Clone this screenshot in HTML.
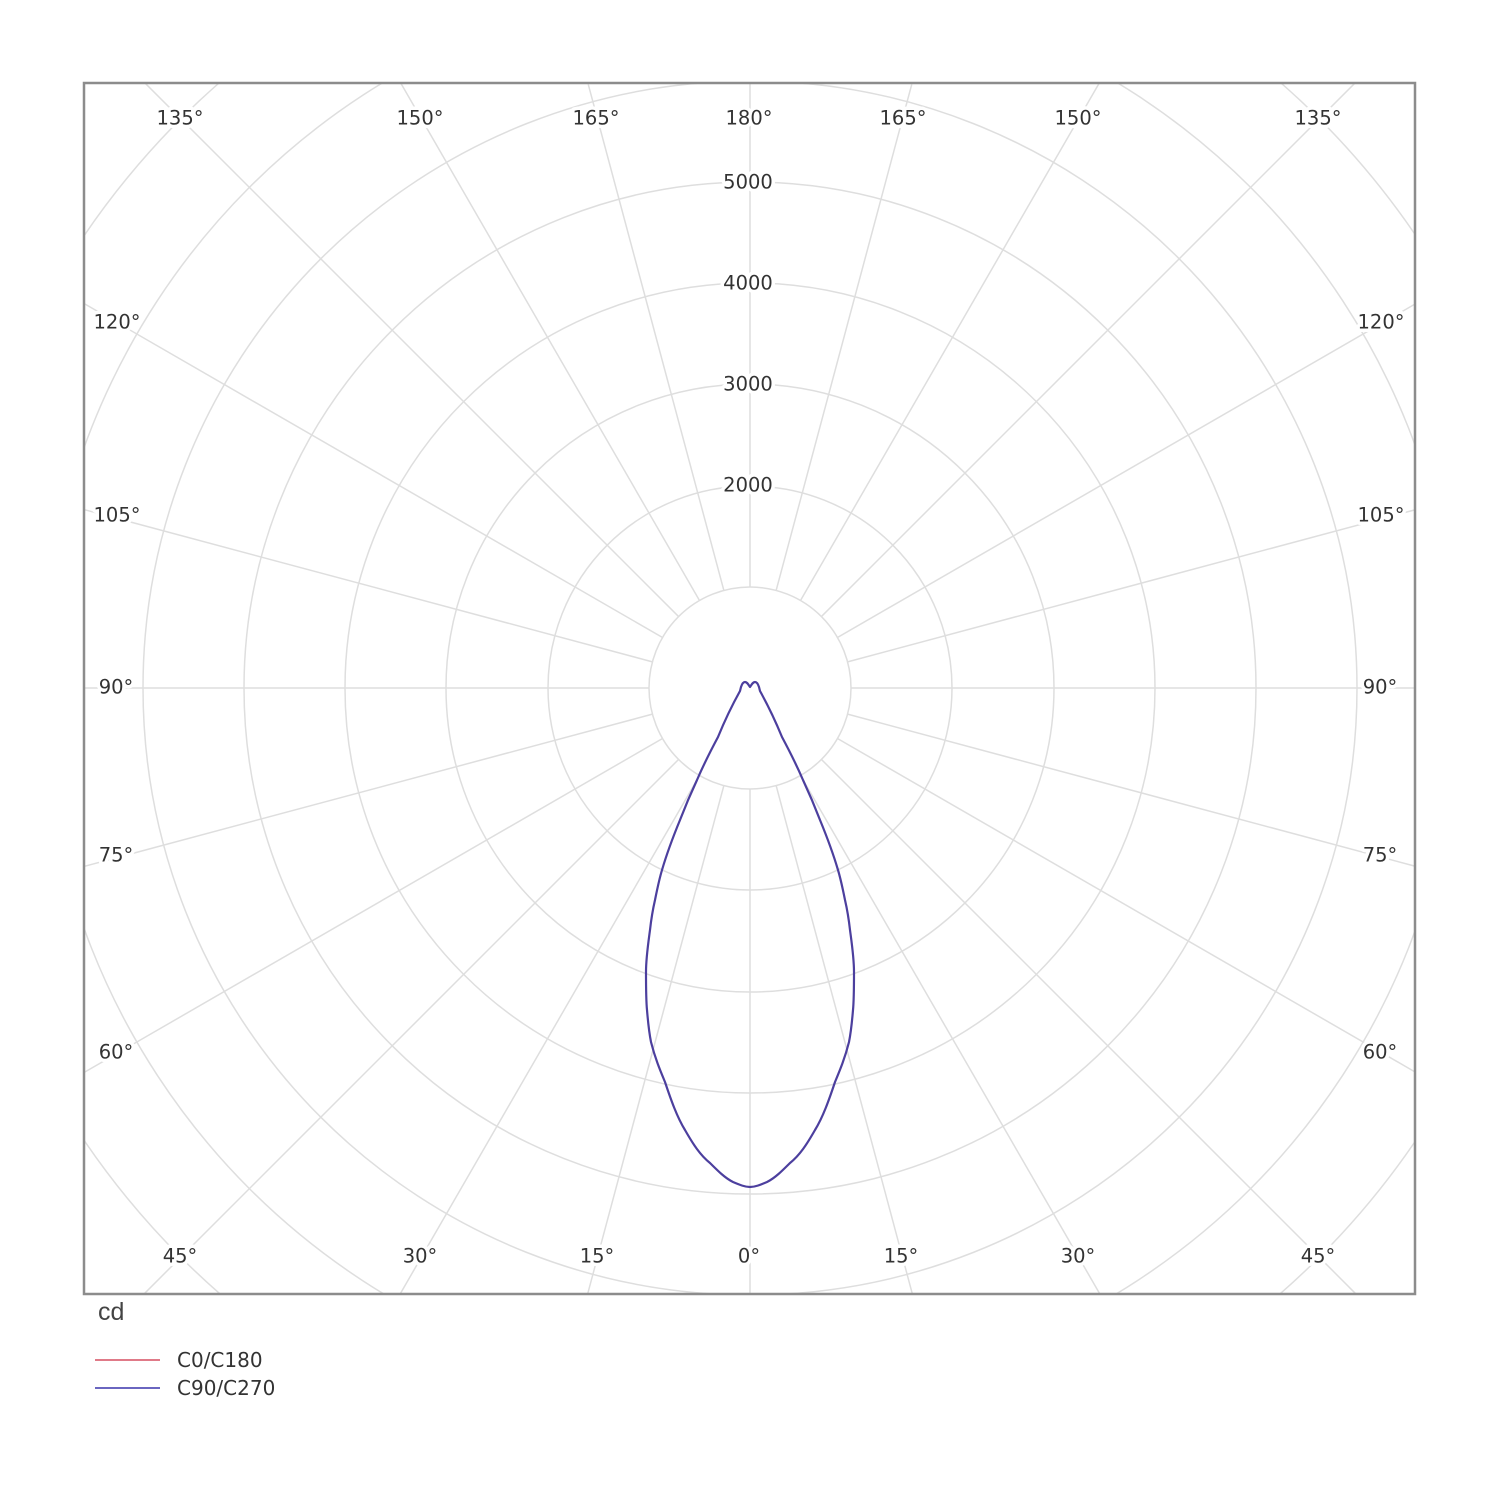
<!DOCTYPE html>
<html>
<head>
<meta charset="utf-8">
<style>
  html,body{margin:0;padding:0;background:#fff;width:1500px;height:1500px;overflow:hidden;}
  svg{display:block;}
  text{font-family:"DejaVu Sans","Liberation Sans",sans-serif;fill:#333;}
  .lbl{font-size:19.5px;text-anchor:middle;dominant-baseline:central;paint-order:stroke;stroke:#fff;stroke-width:7px;stroke-linejoin:round;}
</style>
</head>
<body>
<svg width="1500" height="1500" viewBox="0 0 1500 1500" xmlns="http://www.w3.org/2000/svg">
  <defs>
    <clipPath id="frame"><rect x="84" y="83" width="1331" height="1211"/></clipPath>
  </defs>
  <rect width="1500" height="1500" fill="#fff"/>
  <g clip-path="url(#frame)" fill="none" stroke="#dedede" stroke-width="1.5">
    <circle cx="750" cy="688" r="101"/>
    <circle cx="750" cy="688" r="202"/>
    <circle cx="750" cy="688" r="304"/>
    <circle cx="750" cy="688" r="405"/>
    <circle cx="750" cy="688" r="506"/>
    <circle cx="750" cy="688" r="607"/>
    <circle cx="750" cy="688" r="708"/>
    <circle cx="750" cy="688" r="805"/>
    <g>
      <line x1="750" y1="587" x2="750" y2="84"/>
      <line x1="750" y1="789" x2="750" y2="1293"/>
      <line x1="649" y1="688" x2="85" y2="688"/>
      <line x1="851" y1="688" x2="1414" y2="688"/>
    </g>
    <g transform="translate(750,688)">
      <line x1="0" y1="101" x2="0" y2="627" transform="rotate(15)"/>
      <line x1="0" y1="101" x2="0" y2="699" transform="rotate(30)"/>
      <line x1="0" y1="101" x2="0" y2="856" transform="rotate(45)"/>
      <line x1="0" y1="101" x2="0" y2="768" transform="rotate(60)"/>
      <line x1="0" y1="101" x2="0" y2="689" transform="rotate(75)"/>
      <line x1="0" y1="101" x2="0" y2="689" transform="rotate(105)"/>
      <line x1="0" y1="101" x2="0" y2="768" transform="rotate(120)"/>
      <line x1="0" y1="101" x2="0" y2="855" transform="rotate(135)"/>
      <line x1="0" y1="101" x2="0" y2="698" transform="rotate(150)"/>
      <line x1="0" y1="101" x2="0" y2="625" transform="rotate(165)"/>
      <line x1="0" y1="101" x2="0" y2="625" transform="rotate(195)"/>
      <line x1="0" y1="101" x2="0" y2="698" transform="rotate(210)"/>
      <line x1="0" y1="101" x2="0" y2="855" transform="rotate(225)"/>
      <line x1="0" y1="101" x2="0" y2="768" transform="rotate(240)"/>
      <line x1="0" y1="101" x2="0" y2="689" transform="rotate(255)"/>
      <line x1="0" y1="101" x2="0" y2="689" transform="rotate(285)"/>
      <line x1="0" y1="101" x2="0" y2="768" transform="rotate(300)"/>
      <line x1="0" y1="101" x2="0" y2="856" transform="rotate(315)"/>
      <line x1="0" y1="101" x2="0" y2="699" transform="rotate(330)"/>
      <line x1="0" y1="101" x2="0" y2="627" transform="rotate(345)"/>
    </g>
  </g>

  <!-- curves -->
  <path fill="none" stroke="#4c3f9e" stroke-width="2.2" stroke-linejoin="round"
    d="M750,687 C748,684 747,682 745,682 C743,682 742,684 741,687 L740,691
       C735,700 727,715 718,737 C710,752 703,766 697,780 C690,795 685,807 680,820
       C673,837 667,853 662,870 C659,880 657,890 655,900 C652,913 651,921 650,930
       C648,945 646,958 646,972 C646,988 646,1000 647,1010 C648,1022 649,1032 651,1042
       C655,1058 660,1070 665,1082 C671,1100 677,1117 685,1130 C693,1144 700,1155 710,1163
       C718,1171 725,1178 733,1182 C740,1185 745,1187 750,1187
       C755,1187 760,1185 767,1182 C775,1178 782,1171 790,1163
       C800,1155 807,1144 815,1130 C823,1117 829,1100 835,1082
       C840,1070 845,1058 849,1042 C851,1032 852,1022 853,1010
       C854,1000 854,988 854,972 C854,958 852,945 850,930
       C849,921 848,913 845,900 C843,890 841,880 838,870
       C833,853 827,837 820,820 C815,807 810,795 803,780
       C797,766 790,752 782,737 C773,715 765,700 760,691 L759,687
       C758,684 757,682 755,682 C753,682 752,684 750,687 Z"/>

  <!-- frame -->
  <rect x="84" y="83" width="1331" height="1211" fill="none" stroke="#8c8c8c" stroke-width="2.5"/>

  <!-- radial labels -->
  <text class="lbl" x="748" y="182">5000</text>
  <text class="lbl" x="748" y="283">4000</text>
  <text class="lbl" x="748" y="384">3000</text>
  <text class="lbl" x="748" y="485">2000</text>

  <!-- angle labels top -->
  <text class="lbl" x="180" y="118">135°</text>
  <text class="lbl" x="420" y="118">150°</text>
  <text class="lbl" x="596" y="118">165°</text>
  <text class="lbl" x="749" y="118">180°</text>
  <text class="lbl" x="903" y="118">165°</text>
  <text class="lbl" x="1078" y="118">150°</text>
  <text class="lbl" x="1318" y="118">135°</text>
  <!-- left -->
  <text class="lbl" x="117" y="322">120°</text>
  <text class="lbl" x="117" y="515">105°</text>
  <text class="lbl" x="116" y="687">90°</text>
  <text class="lbl" x="116" y="855">75°</text>
  <text class="lbl" x="116" y="1052">60°</text>
  <!-- right -->
  <text class="lbl" x="1381" y="322">120°</text>
  <text class="lbl" x="1381" y="515">105°</text>
  <text class="lbl" x="1380" y="687">90°</text>
  <text class="lbl" x="1380" y="855">75°</text>
  <text class="lbl" x="1380" y="1052">60°</text>
  <!-- bottom -->
  <text class="lbl" x="180" y="1256">45°</text>
  <text class="lbl" x="420" y="1256">30°</text>
  <text class="lbl" x="597" y="1256">15°</text>
  <text class="lbl" x="749" y="1256">0°</text>
  <text class="lbl" x="901" y="1256">15°</text>
  <text class="lbl" x="1078" y="1256">30°</text>
  <text class="lbl" x="1318" y="1256">45°</text>

  <!-- unit + legend -->
  <text x="98" y="1320" style="font-size:25px;fill:#444;font-family:'Liberation Sans','DejaVu Sans',sans-serif;">cd</text>
  <line x1="95" y1="1360" x2="160" y2="1360" stroke="#e07a88" stroke-width="2"/>
  <text x="177" y="1367" style="font-size:20px;">C0/C180</text>
  <line x1="95" y1="1388" x2="160" y2="1388" stroke="#6a66c0" stroke-width="2"/>
  <text x="177" y="1395" style="font-size:20px;">C90/C270</text>
</svg>
</body>
</html>
